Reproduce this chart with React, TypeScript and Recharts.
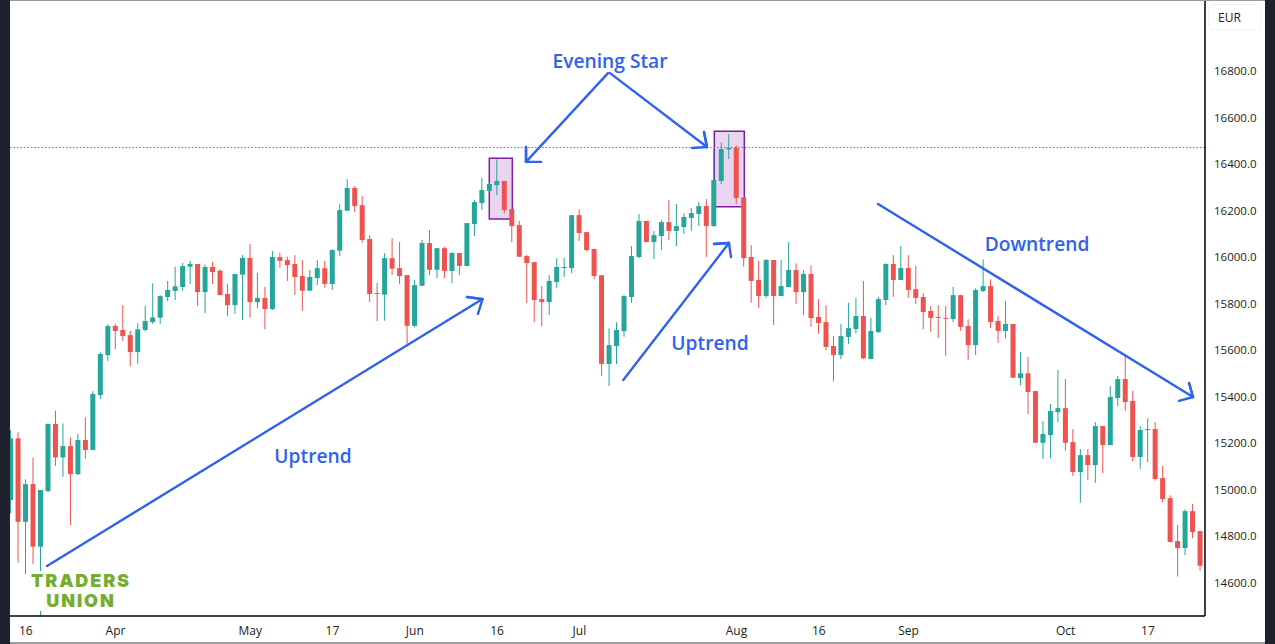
import { Bar, ComposedChart, ReferenceArea, ReferenceLine, XAxis, YAxis } from 'recharts';

// candle values, one entry per trading day
const opens = [
  14955, 15220, 14861, 15023, 14754, 14993, 15282, 15138, 15187, 15066,
  15213, 15170, 15406, 15578, 15703, 15686, 15664, 15591, 15686, 15720,
  15739, 15828, 15854, 15871, 15958, 15970, 15849, 15957, 15941, 15841,
  15793, 15924, 15996, 15806, 15824, 15776, 16000, 15987, 15970, 15918,
  15855, 15909, 15952, 15884, 16027, 16199, 16297, 16223, 16077, 15845,
  15838, 15995, 15952, 15922, 15704, 15876, 16060, 15945, 16038, 15940,
  16017, 15961, 16142, 16232, 16284, 16309, 16327, 16206, 16137, 16004,
  15978, 15819, 15806, 15892, 15954, 15952, 16180, 16107, 16034, 15922,
  15540, 15617, 15681, 15828, 16000, 16155, 16064, 16090, 16150, 16112,
  16129, 16168, 16185, 16219, 16133, 16327, 16463, 16469, 16256, 16000,
  15901, 15832, 15987, 15832, 15871, 15944, 15849, 15927, 15742, 15720,
  15617, 15578, 15656, 15690, 15746, 15561, 15677, 15815, 15970, 15901,
  15953, 15862, 15828, 15768, 15742, 15738, 15733, 15836, 15703, 15621,
  15854, 15875, 15725, 15682, 15712, 15479, 15500, 15424, 15201, 15234,
  15333, 15350, 15204, 15075, 15148, 15105, 15273, 15191, 15393, 15475,
  15381, 15140, 15257, 15260, 15049, 14963, 14778, 14748, 14907, 14821,
];
const closes = [
  15220, 14861, 15023, 14754, 14998, 15282, 15138, 15187, 15066, 15213,
  15170, 15411, 15583, 15703, 15682, 15660, 15591, 15689, 15725, 15740,
  15832, 15858, 15874, 15961, 15970, 15849, 15957, 15935, 15836, 15793,
  15927, 15996, 15806, 15824, 15776, 16000, 15983, 15965, 15914, 15855,
  15914, 15952, 15884, 16030, 16202, 16297, 16219, 16073, 15841, 15842,
  15995, 15950, 15918, 15704, 15879, 16060, 15945, 16038, 15940, 16017,
  15962, 16146, 16236, 16288, 16314, 16327, 16202, 16133, 16001, 15974,
  15815, 15806, 15897, 15957, 15957, 16180, 16103, 16030, 15918, 15540,
  15621, 15686, 15832, 16004, 16155, 16064, 16094, 16150, 16112, 16133,
  16172, 16189, 16219, 16133, 16331, 16464, 16469, 16254, 15995, 15897,
  15832, 15987, 15832, 15875, 15944, 15849, 15927, 15737, 15716, 15613,
  15578, 15660, 15694, 15746, 15564, 15682, 15819, 15970, 15901, 15953,
  15858, 15824, 15763, 15738, 15739, 15735, 15836, 15699, 15621, 15858,
  15875, 15720, 15682, 15712, 15481, 15500, 15419, 15201, 15239, 15338,
  15350, 15201, 15075, 15148, 15105, 15273, 15191, 15398, 15475, 15376,
  15140, 15256, 15260, 15045, 14959, 14774, 14748, 14907, 14817, 14672,
];
const highs = [
  15256, 15246, 15044, 15138, 14998, 15284, 15339, 15284, 15224, 15239,
  15310, 15423, 15590, 15710, 15712, 15792, 15683, 15715, 15789, 15887,
  15836, 15897, 15958, 15975, 15983, 15970, 15968, 15978, 15947, 15884,
  15927, 16008, 16056, 15932, 15872, 16026, 16018, 16001, 16008, 15987,
  15944, 15987, 15983, 16033, 16228, 16335, 16305, 16262, 16093, 15889,
  16016, 16081, 16064, 15922, 15901, 16073, 16116, 16038, 16044, 16021,
  16017, 16146, 16245, 16340, 16319, 16420, 16327, 16206, 16156, 16008,
  15978, 15875, 15922, 15995, 15995, 16180, 16205, 16107, 16036, 15922,
  15693, 15719, 15836, 16047, 16185, 16155, 16112, 16159, 16245, 16228,
  16189, 16211, 16236, 16249, 16460, 16492, 16529, 16481, 16256, 16051,
  15983, 15991, 15987, 15987, 16064, 15973, 15944, 15964, 15819, 15792,
  15660, 15712, 15803, 15823, 15897, 15740, 15829, 15973, 16008, 16047,
  16008, 15961, 15844, 15789, 15793, 15789, 15872, 15836, 15732, 15865,
  15990, 15904, 15746, 15811, 15712, 15591, 15570, 15424, 15294, 15368,
  15514, 15475, 15260, 15174, 15174, 15290, 15273, 15445, 15488, 15574,
  15424, 15273, 15306, 15290, 15101, 14975, 14847, 14915, 14938, 14821,
];
const lows = [
  14897, 14685, 14636, 14679, 14460, 14990, 15102, 15055, 14847, 15062,
  15132, 15170, 15389, 15553, 15603, 15639, 15531, 15540, 15679, 15712,
  15712, 15811, 15815, 15855, 15884, 15789, 15758, 15884, 15836, 15746,
  15755, 15729, 15740, 15780, 15689, 15772, 15954, 15897, 15836, 15769,
  15855, 15879, 15868, 15858, 16004, 16198, 16193, 16061, 15806, 15724,
  15726, 15922, 15884, 15626, 15697, 15875, 15922, 15909, 15909, 15888,
  15922, 15961, 16090, 16202, 16281, 16266, 16188, 16064, 16001, 15803,
  15720, 15703, 15750, 15866, 15914, 15930, 16069, 16024, 15904, 15488,
  15445, 15540, 15657, 15803, 15995, 16064, 15991, 16030, 16073, 16047,
  16099, 16112, 16133, 16000, 16130, 16314, 16421, 16228, 15958, 15803,
  15780, 15825, 15707, 15832, 15871, 15798, 15750, 15700, 15669, 15600,
  15465, 15561, 15626, 15671, 15561, 15560, 15674, 15793, 15829, 15901,
  15824, 15798, 15689, 15679, 15651, 15574, 15720, 15683, 15557, 15578,
  15849, 15695, 15631, 15651, 15481, 15448, 15325, 15201, 15131, 15135,
  15290, 15167, 15058, 14943, 15041, 15028, 15071, 15191, 15359, 15338,
  15122, 15088, 15118, 15038, 14945, 14773, 14625, 14718, 14790, 14651,
];

const dayTicks = [2, 14, 32, 43, 54, 65, 76, 97, 108, 120, 141, 152];
const dayLabels = ['16', 'Apr', 'May', '17', 'Jun', '16', 'Jul', 'Aug', '16', 'Sep', 'Oct', '17'];
const priceTicks = [14600, 14800, 15000, 15200, 15400, 15600, 15800, 16000, 16200, 16400, 16600, 16800];

const resistance = 16471;

// evening star boxes, [first day, last day, low price, high price]
const starBoxes = [
  [63.96, 67.04, 16163, 16425],
  [94.04, 98.05, 16216, 16541],
];

// drawn arrows, each a polyline of [day, price] pairs with the head last
const arrows = [
  [[4.84, 14671], [63.05, 15819], [60.98, 15828], [63.05, 15819], [62.45, 15755]],
  [[81.87, 15471], [96, 16060], [94, 16056], [96, 16060], [96.27, 16000]],
  [[79.83, 16791], [68.87, 16409], [68.87, 16473], [68.87, 16409], [70.87, 16409]],
  [[80.1, 16791], [93.06, 16473], [92.66, 16538], [93.06, 16473], [91.06, 16469]],
  [[115.92, 16228], [158.03, 15398], [157.5, 15458], [158.03, 15398], [156.16, 15381]],
];

const chartData = opens.map((open, i) => ({
  day: i,
  open,
  close: closes[i],
  high: highs[i],
  low: lows[i],
  range: [lows[i], highs[i]],
}));

const UP = '#26a69a';
const DOWN = '#ef5350';
const BLUE = '#2f62ee';
const FONT = '"Open Sans", sans-serif';

const Candle = (props: any) => {
  const { x, y, width, height, payload } = props;
  const { open, close, high, low } = payload;
  const top = Math.min(y, y + height);
  const perUnit = Math.abs(height) / (high - low);
  const bodyTop = top + (high - Math.max(open, close)) * perUnit;
  const bodyHeight = Math.max(Math.abs(open - close) * perUnit, 1);
  const color = close >= open ? UP : DOWN;
  const mid = x + width / 2;
  return (
    <g>
      <rect x={mid - 0.5} y={top} width={1} height={Math.abs(height)} fill={color} />
      <rect x={x} y={bodyTop} width={width} height={bodyHeight} fill={color} />
    </g>
  );
};

const Note = ({ text, left, top }: { text: string; left: number; top: number }) => (
  <div
    style={{
      position: 'absolute',
      left,
      top,
      transform: 'translate(-50%, -50%)',
      color: BLUE,
      fontFamily: FONT,
      fontWeight: 600,
      fontSize: 19.2,
      whiteSpace: 'nowrap',
    }}
  >
    {text}
  </div>
);

const App = () => {
  return (
    <div style={{ position: 'absolute', left: 0, top: 0, width: 1275, height: 644, overflow: 'hidden', background: '#fff' }}>
      <ComposedChart
        width={1275}
        height={644}
        data={chartData}
        margin={{ top: 1, right: 10, bottom: 0, left: 10 }}
      >
        <XAxis
          dataKey="day"
          type="number"
          domain={[-0.107, 159.63]}
          allowDataOverflow
          ticks={dayTicks}
          tickFormatter={(v: number) => dayLabels[dayTicks.indexOf(v)]}
          interval={0}
          height={28}
          tickLine={false}
          tickMargin={4}
          axisLine={{ stroke: '#000', strokeWidth: 1.5 }}
          tick={{ fontSize: 12, fontFamily: FONT, fill: '#222' }}
        />
        <YAxis
          orientation="right"
          width={60}
          domain={[14456, 17101]}
          allowDataOverflow
          ticks={priceTicks}
          interval={0}
          tickFormatter={(v: number) => v.toFixed(1)}
          tickLine={false}
          tickMargin={3}
          axisLine={{ stroke: '#000', strokeWidth: 1.5 }}
          tick={{ fontSize: 11.5, fontFamily: FONT, fill: '#222' }}
        />
        <ReferenceLine y={resistance} stroke="#1b9e90" strokeDasharray="1.5 2" strokeWidth={1} />
        <Bar dataKey="range" barSize={5} shape={Candle} isAnimationActive={false} />
        {starBoxes.map((b, i) => (
          <ReferenceArea
            key={i}
            x1={b[0]}
            x2={b[1]}
            y1={b[2]}
            y2={b[3]}
            fill="#9c27b0"
            fillOpacity={0.2}
            stroke="#7b1fa2"
            strokeWidth={1.5}
          />
        ))}
        {arrows.map((pts, a) =>
          pts.slice(1).map((p, i) => (
            <ReferenceLine
              key={`${a}-${i}`}
              segment={[
                { x: pts[i][0], y: pts[i][1] },
                { x: p[0], y: p[1] },
              ]}
              stroke={BLUE}
              strokeWidth={2.4}
              strokeLinecap="round"
            />
          ))
        )}
      </ComposedChart>

      <Note text="Evening Star" left={610} top={60} />
      <Note text="Uptrend" left={313} top={455} />
      <Note text="Uptrend" left={710} top={342} />
      <Note text="Downtrend" left={1037} top={243} />

      <div
        style={{
          position: 'absolute',
          left: 28,
          top: 571,
          width: 106,
          height: 40,
          background: '#fff',
          color: '#76ad2e',
          fontFamily: 'Inter, sans-serif',
          fontWeight: 900,
          fontSize: 18,
          letterSpacing: 1.9,
          lineHeight: '19.5px',
          textAlign: 'center',
        }}
      >
        TRADERS
        <br />
        UNION
      </div>

      <div
        style={{
          position: 'absolute',
          left: 1208,
          top: 4,
          width: 53,
          height: 26,
          boxSizing: 'border-box',
          border: '1px solid #f0f3fa',
          borderRadius: 4,
          padding: '4px 9px',
          fontSize: 12,
          fontFamily: FONT,
          color: '#222',
        }}
      >
        EUR
      </div>

      <div style={{ position: 'absolute', left: 0, top: 0, width: 10, height: 644, background: '#1e222d' }} />
      <div style={{ position: 'absolute', left: 1265, top: 0, width: 10, height: 644, background: '#1e222d' }} />
      <div style={{ position: 'absolute', left: 10, top: 0, width: 1255, height: 1, background: '#9a9a9a' }} />
      <div style={{ position: 'absolute', left: 10, top: 642, width: 1255, height: 2, background: '#9a9a9a' }} />
    </div>
  );
};

export default App;
